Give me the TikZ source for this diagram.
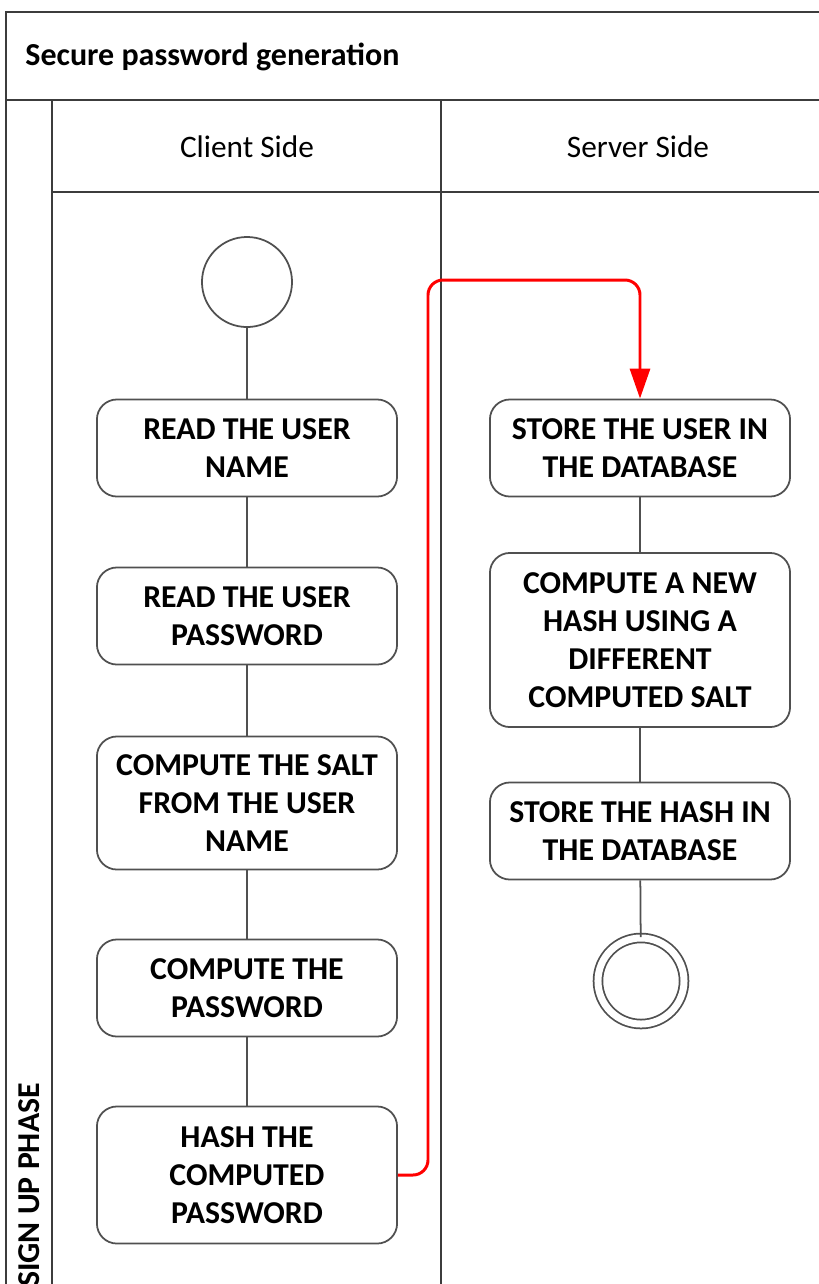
\documentclass[tikz,border=0pt]{standalone}
\usepackage{fontspec}
\setmainfont{Carlito}
\usetikzlibrary{arrows.meta, positioning}
\definecolor{framecolor}{RGB}{60, 60, 60}
\definecolor{boxcolor}{RGB}{80, 80, 80}
\definecolor{flowcolor}{RGB}{255, 0, 0}

\begin{document}
\begin{tikzpicture}[
    x=0.01cm, y=-0.01cm,
    frame/.style={draw=framecolor, line width=0.6pt},
    activity/.style={rectangle, rounded corners=0.2cm, draw=boxcolor, line width=0.5pt, fill=white, minimum width=3cm, minimum height=0.97cm, align=center, font=\fontsize{9.05}{10.8}\selectfont\bfseries},
    startstate/.style={circle, draw=boxcolor, line width=0.5pt, minimum size=0.9cm, inner sep=0pt},
    endstate/.style={circle, draw=boxcolor, line width=0.5pt, double=white, double distance=0.07cm, minimum size=0.86cm, inner sep=0pt},
    link/.style={draw=boxcolor, line width=0.5pt},
    flow/.style={draw=flowcolor, line width=0.85pt, rounded corners=0.15cm, -{Triangle[length=0.3cm, width=0.2cm]}},
    header/.style={font=\fontsize{8.9}{11}\selectfont}
]
\useasboundingbox (0,0) rectangle (819,1284);

% === Swimlane frame ===
\draw[frame] (819,12) -- (6,12) -- (6,1290);
\draw[frame] (6,100) -- (819,100);
\draw[frame] (52,192) -- (819,192);
\draw[frame] (52,100) -- (52,1290);
\draw[frame] (441,100) -- (441,1290);

% Titles
\node[font=\fontsize{9.1}{11}\selectfont\bfseries, anchor=west] (title) at (13,57) {Secure password generation};
\node[header] (client) at (247,147) {Client Side};
\node[header] (server) at (638,147) {Server Side};
\node[font=\fontsize{9.05}{11}\selectfont\bfseries, rotate=90] (phase) at (29,1185) {SIGN UP PHASE};

% === Client side ===
\node[startstate] (start) at (247,282) {};
\node[activity] (read_name) at (247,448) {READ THE USER\\NAME};
\node[activity] (read_pass) at (247,616) {READ THE USER\\PASSWORD};
\node[activity, minimum height=1.33cm] (salt) at (247,803) {COMPUTE THE SALT\\FROM THE USER\\NAME};
\node[activity] (comp_pass) at (247,988) {COMPUTE THE\\PASSWORD};
\node[activity, minimum height=1.37cm] (hash) at (247,1175) {HASH THE\\COMPUTED\\PASSWORD};

% === Server side ===
\node[activity] (store_user) at (640,448) {STORE THE USER IN\\THE DATABASE};
\node[activity, minimum height=1.74cm] (new_hash) at (640,640) {COMPUTE A NEW\\HASH USING A\\DIFFERENT\\COMPUTED SALT};
\node[activity] (store_hash) at (640,831) {STORE THE HASH IN\\THE DATABASE};
\node[endstate] (finish) at (641,981) {};

% Arrows - client flow
\draw[link] (start) -- (read_name);
\draw[link] (read_name) -- (read_pass);
\draw[link] (read_pass) -- (salt);
\draw[link] (salt) -- (comp_pass);
\draw[link] (comp_pass) -- (hash);

% Arrows - server flow
\draw[link] (store_user) -- (new_hash);
\draw[link] (new_hash) -- (store_hash);
\draw[link] (store_hash) -- (finish);

% Client to server
\draw[flow] (hash.east) -| (428,280) -| (store_user.north);

\end{tikzpicture}
\end{document}
